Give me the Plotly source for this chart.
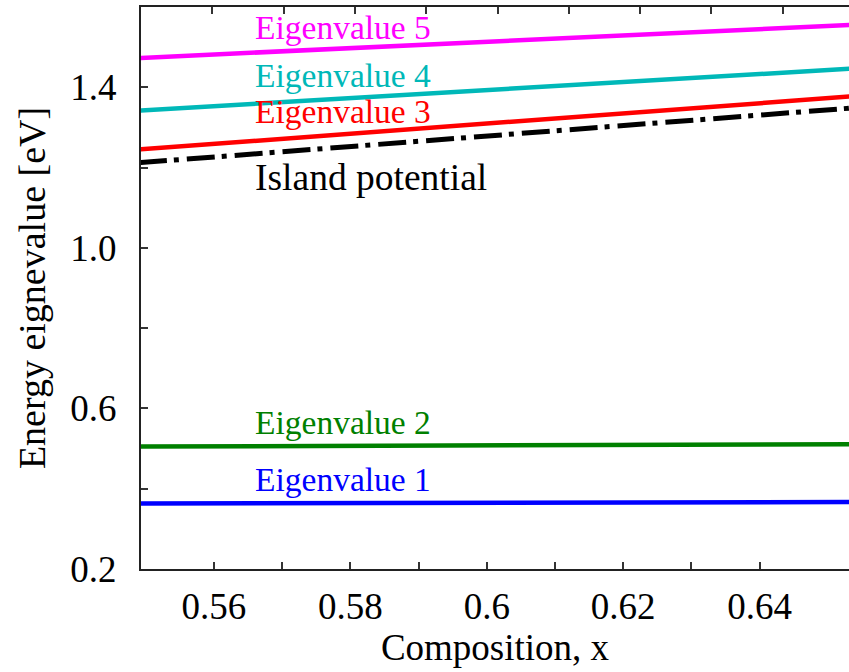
import plotly.graph_objects as go

# Data
x_ends = [0.549, 0.654]
eig1 = [0.363, 0.367]
eig2 = [0.505, 0.511]
eig3 = [1.245, 1.378]
eig4 = [1.342, 1.447]
eig5 = [1.473, 1.556]
island = [1.212, 1.349]

series_names = ["Eigenvalue 1", "Eigenvalue 2", "Eigenvalue 3", "Eigenvalue 4", "Eigenvalue 5"]
series_vals = [eig1, eig2, eig3, eig4, eig5]
series_colors = ["#0000ff", "#008000", "#ff0000", "#00b8b8", "#ff00ff"]
label_y = [0.422, 0.564, 1.339, 1.429, 1.549]
island_label_y = 1.175

x_tickvals = [0.56, 0.57, 0.58, 0.59, 0.60, 0.61, 0.62, 0.63, 0.64]
x_ticktext = ["0.56", "", "0.58", "", "0.6", "", "0.62", "", "0.64"]
y_tickvals = [0.2, 0.4, 0.6, 0.8, 1.0, 1.2, 1.4]
y_ticktext = ["0.2", "", "0.6", "", "1.0", "", "1.4"]

FONT = "Liberation Serif, Times New Roman, serif"

fig = go.Figure()
for name, vals, col in zip(series_names, series_vals, series_colors):
    fig.add_trace(go.Scatter(x=x_ends, y=vals, mode="lines", name=name,
                             line=dict(color=col, width=4.5), showlegend=False))
fig.add_trace(go.Scatter(x=x_ends, y=island, mode="lines", name="Island potential",
                         line=dict(color="black", width=5, dash="28px,7px,5px,8px"),
                         showlegend=False))
# dummy trace to create top axis
fig.add_trace(go.Scatter(x=[None], y=[None], xaxis="x2", showlegend=False, hoverinfo="skip"))

label_x = 0.5657
for name, ly, col in zip(series_names, label_y, series_colors):
    fig.add_annotation(x=label_x, y=ly, text=name, showarrow=False, xanchor="left",
                       yanchor="middle", font=dict(family=FONT, size=33.5, color=col))
fig.add_annotation(x=label_x, y=island_label_y, text="Island potential", showarrow=False,
                   xanchor="left", yanchor="middle", font=dict(family=FONT, size=37.5, color="black"))

fig.update_layout(
    width=849, height=672,
    margin=dict(l=141, r=0, t=7, b=103),
    paper_bgcolor="white", plot_bgcolor="white",
    font=dict(family=FONT, size=36, color="black"),
    xaxis=dict(range=[0.5493, 0.6531], tickvals=x_tickvals, ticktext=x_ticktext,
               ticks="inside", ticklen=7, tickwidth=1.5, tickcolor="#333",
               showline=True, linecolor="#222", linewidth=2, showgrid=False, zeroline=False,
               ticklabelstandoff=4, tickfont=dict(size=37),
               title=dict(text="Composition, x", font=dict(size=37), standoff=4)),
    xaxis2=dict(overlaying="x", side="top", anchor="y", range=[0.55, 0.6493],
                tickmode="linear", tick0=0.56, dtick=0.01, ticks="inside", ticklen=7,
                tickwidth=1.5, tickcolor="#333", showticklabels=False,
                showline=True, linecolor="#222", linewidth=2, showgrid=False, zeroline=False),
    yaxis=dict(range=[0.2, 1.6], tickvals=y_tickvals, ticktext=y_ticktext,
               ticks="inside", ticklen=7, tickwidth=1.5, tickcolor="#333",
               showline=True, linecolor="#222", linewidth=2, showgrid=False, zeroline=False,
               ticklabelstandoff=15, tickfont=dict(size=37),
               title=dict(text="Energy eignevalue [eV]", font=dict(size=38), standoff=13)),
)

fig.write_html("out.html")
